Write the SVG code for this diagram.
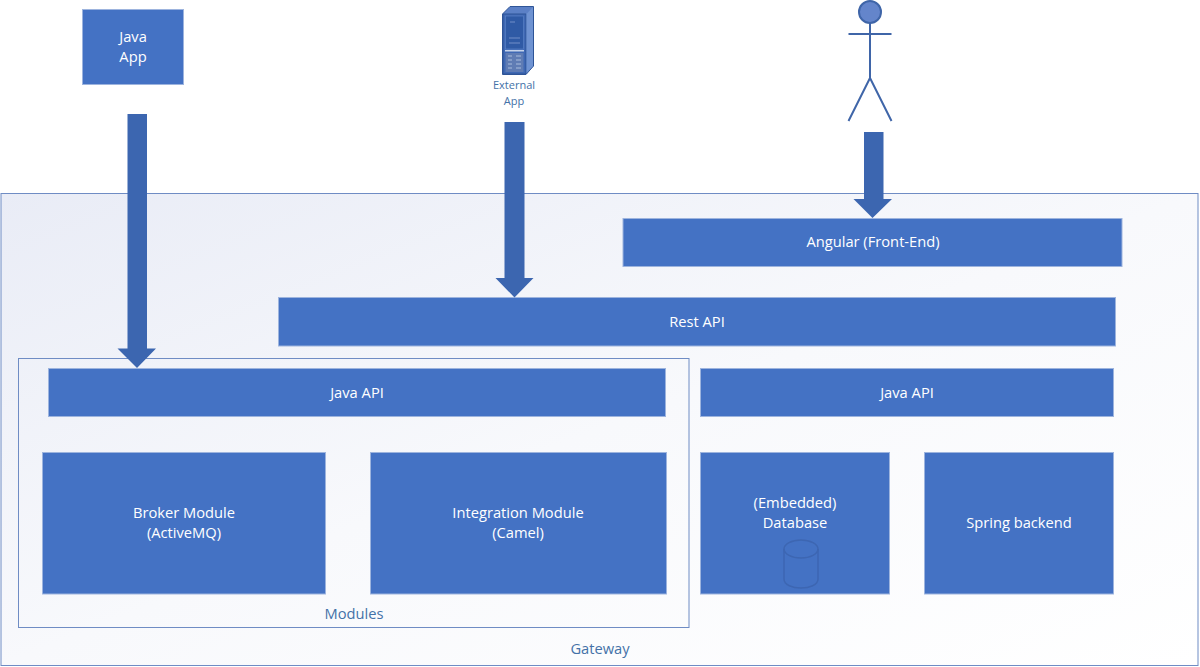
<svg xmlns="http://www.w3.org/2000/svg" width="1200" height="667" viewBox="0 0 1200 667">
<style>
text{font-family:"Open Sans","Noto Sans",sans-serif;font-size:14.7px;text-anchor:middle}
.b{fill:#4472c4;stroke:#9db4de;stroke-width:1}
.w{fill:#fff}
.l{fill:#4472a8}
.a{fill:#3c66b0}
.s{fill:none;stroke:#3f65a8;stroke-width:2}
</style>
<defs>
<linearGradient id="g" x1="0" y1="0" x2="1" y2="1" gradientUnits="objectBoundingBox"><stop offset="0" stop-color="#e9ecf6"/><stop offset=".5" stop-color="#f8f9fc"/><stop offset="1" stop-color="#fff"/></linearGradient>
</defs>
<g id="gateway"><rect x="1" y="193.500" width="1197" height="472" fill="url(#g)" stroke="#6f8cc4"/><text class="l" x="600" y="653.500">Gateway</text></g>
<g id="modules"><rect x="18.500" y="358.500" width="670.500" height="269" fill="none" stroke="#6f8cc4"/><text class="l" x="354" y="618.500">Modules</text></g>
<g id="java-app"><rect class="b" x="82.500" y="9.500" width="101" height="75"/><text class="w" x="133" y="42">Java</text><text class="w" x="133" y="62">App</text></g>
<g id="external-app">
<path d="M502.500 14L510 6.500H533.500V66L526 74.500H502.500Z" fill="#5b80c6" stroke="#2f5597" stroke-width="1"/>
<path d="M503 14H526V74H503Z" fill="#3f68b4" stroke="#2f5597"/>
<path d="M526.500 14L533 7V66L526.500 73Z" fill="#6f93d2"/>
<rect x="505.500" y="16" width="18" height="33" fill="#2f5aa5" stroke="#5f85c8" stroke-width=".6"/>
<path d="M510 22H515M509 38H520M509 43H520" stroke="#8fa8d8" stroke-width=".7"/>
<rect x="505" y="50" width="19" height="1.500" fill="#c6d3ea"/>
<rect x="505.500" y="53" width="18" height="19" fill="#5f7cb4"/>
<path d="M508 56H512M516 56H521M508 60H512M516 60H521M508 64H512M516 64H521M508 68H512M516 68H521" stroke="#a9bcdc" stroke-width="1"/>
<text class="l" x="514" y="89" style="font-size:11px">External</text><text class="l" x="514" y="105" style="font-size:11px">App</text>
</g>
<g id="user">
<circle cx="870" cy="12" r="11" fill="#6485cb" stroke="#3f65a8" stroke-width="2"/>
<path class="s" d="M870 23V78M848.500 34H891.500M870 78L848.500 121M870 78L891.500 121"/>
</g>
<g id="angular"><rect class="b" x="623" y="218.500" width="499" height="48"/><text class="w" x="873" y="247">Angular (Front-End)</text></g>
<g id="rest-api"><rect class="b" x="278.500" y="297.500" width="837" height="48.500"/><text class="w" x="697" y="326.500">Rest API</text></g>
<g id="java-api-1"><rect class="b" x="48.500" y="368.500" width="617" height="48"/><text class="w" x="357" y="397.500">Java API</text></g>
<g id="java-api-2"><rect class="b" x="700.500" y="368.500" width="413" height="48"/><text class="w" x="907" y="397.500">Java API</text></g>
<g id="broker"><rect class="b" x="42.500" y="452.500" width="283" height="141.500"/><text class="w" x="184" y="517.500">Broker Module</text><text class="w" x="184" y="537.500">(ActiveMQ)</text></g>
<g id="integration"><rect class="b" x="370.500" y="452.500" width="296" height="141.500"/><text class="w" x="518" y="517.500">Integration Module</text><text class="w" x="518" y="537.500">(Camel)</text></g>
<g id="database"><rect class="b" x="700.500" y="452.500" width="189" height="141.500"/><text class="w" x="795" y="507.500">(Embedded)</text><text class="w" x="795" y="527.500">Database</text>
<path d="M784 549V579C784 591 818 591 818 579V549" fill="none" stroke="#3d66b2" stroke-width="1.500"/><ellipse cx="801" cy="549" rx="17" ry="9" fill="none" stroke="#3d66b2" stroke-width="1.500"/></g>
<g id="spring"><rect class="b" x="924.500" y="452.500" width="189" height="141.500"/><text class="w" x="1019" y="527.500">Spring backend</text></g>
<g id="connectors">
<path class="a" d="M127.500 114H147V348.500H156L137 368L117.500 348.500H127.500Z"/>
<path class="a" d="M504.500 122H524.500V278H533.500L514.500 297.500L495.500 278H504.500Z"/>
<path class="a" d="M864 132H883.500V199H892L872.500 218L853.500 199H864Z"/>
</g>
</svg>
